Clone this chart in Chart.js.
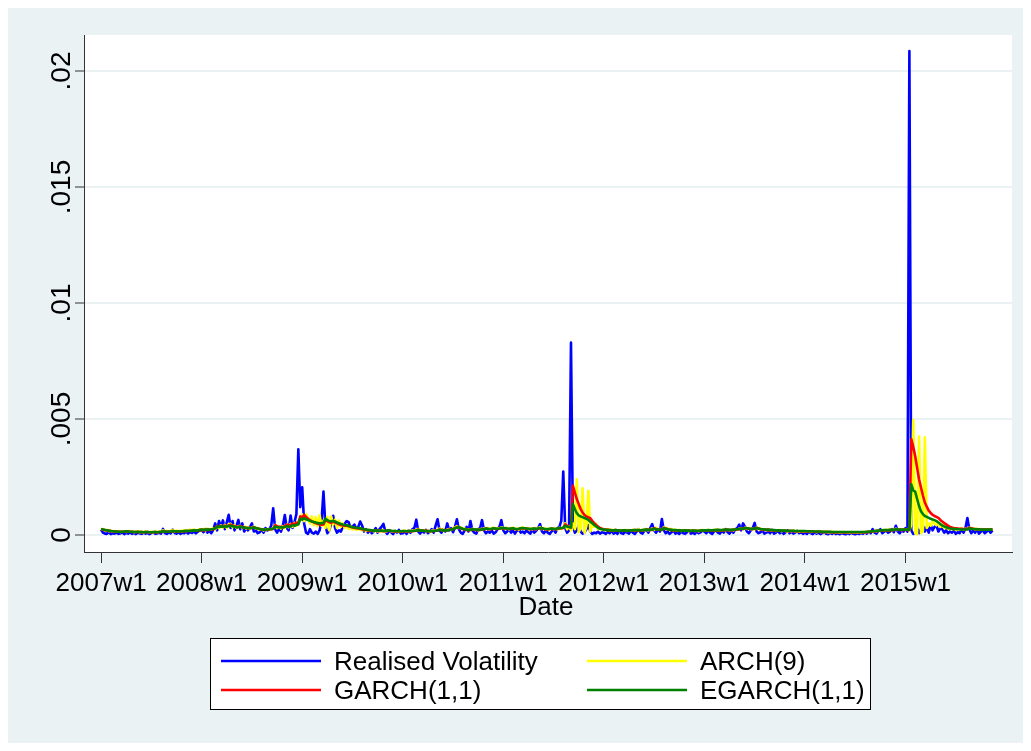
<!DOCTYPE html>
<html>
<head>
<meta charset="utf-8">
<script src="https://cdn.jsdelivr.net/npm/chart.js@4.4.0/dist/chart.umd.min.js"></script>
<style>
  html, body { margin: 0; padding: 0; background: #ffffff; }
  canvas { display: block; }
</style>
</head>
<body>
<canvas id="c" width="1031" height="751"></canvas>
<script>
// Weekly series, 2007w1 .. 2015w46, values in units of 1e-4
const realisedVol = [
  2.3,1.0,0.6,0.5,1.2,0.4,0.8,0.6,1.0,0.5,0.7,1.1,0.4,0.9,0.6,1.2,0.5,0.8,0.4,1.0,0.7,0.5,1.1,0.6,0.9,0.4,0.8,1.2,0.5,0.7,1.0,0.6,2.6,0.8,0.5,1.1,0.7,2.3,0.9,0.6,1.2,0.5,1.0,0.8,1.5,0.6,1.3,0.9,1.6,0.7,1.4,2.0,
  2.0,1.2,2.5,1.0,1.8,0.8,2.2,5.0,2.0,6.0,3.5,6.3,2.5,5.5,8.7,3.0,6.0,2.0,4.0,6.5,2.5,5.0,1.5,3.0,2.0,3.5,5.0,1.5,2.0,0.8,1.2,2.5,1.0,3.0,2.0,2.5,4.0,11.5,2.5,1.0,3.0,1.5,4.0,8.6,3.0,2.0,8.4,3.0,5.5,9.0,36.9,12.0,
  20.6,5.0,1.0,0.5,2.5,1.0,0.6,1.5,0.5,2.0,6.0,18.7,4.0,0.8,2.0,5.0,8.3,3.0,1.0,2.0,1.5,3.5,4.8,6.0,5.5,3.0,3.5,4.5,2.5,3.5,5.8,4.0,1.5,2.5,1.0,2.0,0.8,1.5,3.0,1.0,2.5,3.5,4.8,1.5,0.5,2.0,1.2,0.4,1.8,1.0,2.2,0.6,
  0.8,1.5,0.5,2.0,1.0,2.5,3.0,6.6,1.5,0.6,1.8,1.0,2.2,0.8,1.5,2.5,1.0,4.0,6.8,2.0,1.0,2.5,1.5,5.0,2.0,3.0,1.2,3.5,6.8,2.5,1.0,0.5,2.0,3.5,1.5,6.0,2.0,1.0,0.6,2.5,3.0,6.4,2.0,0.8,1.5,1.0,2.0,0.6,1.2,2.5,3.5,6.4,
  2.0,0.8,1.5,2.5,1.0,2.0,0.6,1.8,2.5,1.0,1.5,0.8,2.0,1.2,0.6,2.5,1.0,1.8,3.0,4.7,1.5,0.8,2.0,1.0,0.5,1.5,2.5,1.0,3.0,3.5,6.2,27.3,3.0,1.0,2.0,82.9,4.0,1.0,2.0,4.0,1.5,0.6,1.2,2.5,4.3,1.5,0.5,1.0,0.8,1.5,0.6,1.2,
  1.0,0.5,1.5,0.8,2.0,0.6,1.2,0.5,1.8,0.8,0.5,1.5,1.0,0.6,2.0,1.0,0.5,1.5,2.5,1.0,0.6,1.8,2.5,1.0,3.0,4.7,2.0,1.0,2.5,1.5,6.9,2.0,0.8,1.5,0.5,1.2,2.0,0.6,1.0,0.5,1.5,0.8,0.5,1.2,2.0,0.6,1.0,0.5,1.5,0.8,1.2,2.0,
  1.5,0.8,2.0,1.0,0.5,1.5,2.2,1.0,0.6,1.8,1.0,2.5,1.2,0.6,2.0,1.0,2.5,3.0,4.5,2.0,5.0,3.5,1.5,0.8,2.0,3.0,5.2,1.5,0.8,1.2,2.0,0.6,1.0,1.5,0.8,2.2,0.6,1.0,1.8,0.8,1.5,0.5,1.2,2.0,0.8,1.5,0.6,1.0,1.8,0.8,1.2,0.5,
  1.0,0.5,1.5,0.8,0.4,1.2,0.6,1.0,0.4,0.8,1.2,0.5,0.3,0.9,0.5,1.1,0.4,0.7,0.3,0.9,0.5,0.3,0.8,0.4,1.0,0.5,0.3,0.7,0.4,0.9,0.5,1.2,0.6,1.5,0.8,2.5,1.0,0.6,1.8,2.5,0.8,1.5,2.0,1.0,1.5,2.5,1.2,4.0,1.5,0.8,2.0,1.5,
  3.0,1.5,208.6,2.0,0.5,1.0,3.0,0.8,2.5,4.0,1.5,3.5,1.0,4.5,2.0,3.5,4.0,1.5,3.0,2.5,1.0,2.0,0.8,1.5,1.0,2.0,0.5,1.2,0.8,2.5,1.0,3.0,7.3,2.5,0.8,2.0,1.0,2.5,0.6,1.5,2.0,0.8,1.5,2.2,1.0,2.0
];
const arch9 = [
  2.4,2.6,2.0,2.2,1.6,1.9,1.5,1.7,1.4,1.6,1.3,1.5,1.6,1.3,1.7,1.4,1.5,1.2,1.4,1.6,1.2,1.4,1.1,1.5,1.3,1.2,1.4,1.1,1.5,1.2,1.4,1.6,2.0,1.5,1.8,1.4,1.7,2.2,1.5,1.9,1.6,1.8,1.5,2.1,1.7,2.0,2.3,1.8,2.4,2.0,2.2,2.5,
  2.1,2.6,2.0,2.8,2.3,2.5,2.9,2.4,3.8,3.0,4.2,3.2,4.4,3.0,4.6,4.8,3.3,4.2,3.0,3.8,4.0,3.0,3.6,2.7,3.4,2.6,3.3,3.6,2.8,3.0,2.3,2.6,2.0,2.5,2.2,2.6,2.4,2.8,4.4,3.0,3.6,2.8,3.8,3.0,4.5,3.4,4.8,3.5,5.2,4.0,5.8,6.5,
  8.8,6.0,9.0,7.5,5.0,8.0,4.2,7.6,3.8,8.5,4.0,6.2,3.0,7.8,2.0,8.0,4.5,6.6,3.0,6.2,3.5,5.0,3.0,4.2,2.6,3.5,2.4,3.0,2.2,2.6,2.4,2.0,2.3,1.8,2.1,1.7,1.9,1.6,1.9,1.5,1.8,1.6,2.0,1.5,1.7,2.1,1.6,1.5,1.8,1.4,1.6,1.5,
  1.7,1.9,1.5,1.8,1.6,2.0,1.8,2.2,2.6,2.0,1.8,2.1,1.6,1.9,1.5,1.8,2.0,1.7,2.2,2.8,2.2,2.4,1.8,2.3,2.6,2.2,2.9,3.2,3.8,3.0,3.3,2.6,2.8,2.1,2.5,2.0,2.7,2.3,2.6,2.0,2.6,2.3,2.9,2.5,3.0,2.4,2.9,3.2,2.6,3.0,2.8,3.3,
  3.0,2.6,3.1,2.4,2.9,3.2,2.5,2.8,2.3,3.0,3.3,2.7,3.0,2.5,2.8,2.4,3.0,2.5,2.9,3.4,2.6,3.0,2.4,2.7,2.2,3.0,2.5,2.8,2.4,3.1,2.6,3.2,5.0,2.4,3.8,2.0,5.0,2.5,24.0,1.2,3.0,20.1,1.0,4.0,19.1,1.5,4.5,3.5,4.8,2.5,3.0,2.2,
  2.4,2.0,2.6,1.9,2.3,1.8,2.2,2.0,1.7,2.1,1.8,2.2,1.7,2.0,1.9,2.3,1.8,2.2,2.4,1.9,2.3,2.1,2.6,2.0,2.4,2.8,2.2,3.2,2.4,2.6,2.1,3.4,2.5,2.9,2.2,2.6,1.9,2.3,1.8,2.2,1.7,2.0,1.8,2.1,1.6,1.9,2.0,1.7,1.9,1.6,2.0,2.2,
  1.8,2.1,1.9,2.2,1.8,2.1,2.3,1.9,2.2,2.0,2.3,2.0,2.4,2.1,2.3,2.0,2.6,2.3,2.7,3.0,2.4,3.2,2.6,3.1,2.5,2.7,2.4,3.3,2.5,2.8,2.2,2.5,2.0,2.3,2.1,1.8,2.1,1.7,2.0,1.8,1.6,1.9,1.7,1.5,1.8,1.6,1.9,1.5,1.7,1.4,1.7,1.5,
  1.6,1.4,1.7,1.3,1.5,1.4,1.2,1.5,1.3,1.4,1.2,1.4,1.1,1.3,1.2,1.4,1.1,1.3,1.0,1.2,1.3,1.1,1.2,1.0,1.3,1.1,1.2,1.0,1.2,1.1,1.3,1.2,1.4,1.2,1.6,1.4,1.8,1.6,2.0,1.8,2.2,1.9,2.3,2.0,2.4,2.1,2.3,2.7,2.2,2.5,2.1,2.4,
  2.2,2.6,2.0,4.5,49.6,0.8,0.4,42.4,0.8,1.8,42.1,3.0,5.0,4.0,6.0,5.0,4.2,5.2,3.5,4.5,3.0,3.6,2.6,3.0,2.4,2.8,2.2,2.6,2.4,2.9,2.3,2.7,2.5,3.2,2.6,2.8,2.4,2.7,2.3,2.6,2.2,2.5,2.3,2.6,2.4,2.5
];
const garch11 = [
  2.5,2.3,2.1,2.0,1.8,1.7,1.6,1.5,1.5,1.4,1.4,1.4,1.4,1.5,1.5,1.4,1.4,1.3,1.3,1.3,1.3,1.3,1.2,1.3,1.3,1.2,1.2,1.2,1.3,1.2,1.3,1.3,1.6,1.5,1.4,1.4,1.5,1.7,1.6,1.5,1.5,1.5,1.5,1.6,1.7,1.7,1.7,1.8,1.9,1.9,1.9,2.1,
  2.2,2.1,2.2,2.3,2.2,2.4,2.5,3.0,3.8,3.6,3.9,3.7,4.0,3.7,4.1,4.4,4.0,3.8,3.4,3.5,3.8,3.4,3.3,3.0,3.0,2.9,3.1,3.3,3.0,2.8,2.6,2.4,2.3,2.2,2.3,2.4,2.5,2.6,4.2,3.8,3.5,3.5,3.3,3.8,4.4,4.0,4.3,4.9,4.6,5.3,5.0,8.0,
  7.6,8.6,7.8,7.0,6.4,5.9,5.5,5.1,4.8,4.5,4.4,4.5,6.5,6.0,5.5,5.3,5.8,5.4,5.0,4.6,4.3,4.1,4.0,4.1,3.8,3.5,3.2,3.0,2.9,2.8,2.7,2.5,2.3,2.2,2.0,1.9,1.8,1.8,1.8,1.7,1.7,1.8,1.6,1.7,1.8,1.9,1.7,1.6,1.6,1.5,1.6,1.5,
  1.6,1.6,1.5,1.5,1.6,1.6,1.7,1.8,2.3,2.0,1.9,1.8,1.7,1.7,1.6,1.6,1.7,1.8,1.9,2.4,2.1,2.0,1.9,2.0,2.3,2.3,2.6,2.9,3.4,3.2,2.9,2.6,2.4,2.2,2.1,2.2,2.4,2.3,2.2,2.1,2.2,2.4,2.5,2.8,2.6,2.5,2.6,2.9,2.7,2.6,2.7,3.0,
  2.8,2.9,2.7,2.6,2.7,2.8,2.6,2.5,2.6,2.8,2.9,2.8,2.7,2.6,2.5,2.6,2.7,2.6,2.7,2.9,2.8,2.6,2.5,2.4,2.6,2.7,2.6,2.5,2.7,2.8,2.9,3.0,4.6,3.9,3.5,3.2,21.2,18.3,15.5,13.3,11.2,9.7,8.6,8.0,7.6,7.2,6.1,5.1,4.3,3.6,3.1,2.7,
  2.5,2.3,2.2,2.1,2.0,2.0,2.1,2.0,1.9,1.8,1.9,2.0,1.9,1.8,2.0,2.0,2.1,2.0,1.9,1.9,2.0,2.2,2.4,2.2,2.3,2.2,2.9,2.6,2.4,2.3,2.2,3.1,2.8,2.5,2.3,2.1,2.0,2.0,1.9,1.9,1.8,1.8,1.9,1.8,1.8,1.7,1.8,1.8,1.7,1.7,1.8,1.9,
  1.9,1.9,2.0,1.9,1.9,2.0,2.0,2.1,2.0,2.0,2.1,2.1,2.2,2.1,2.1,2.2,2.3,2.4,2.5,2.8,2.6,3.0,2.9,2.7,2.6,2.6,2.7,3.1,2.8,2.5,2.4,2.3,2.2,2.2,2.1,2.0,2.0,1.9,1.9,1.9,1.8,1.8,1.8,1.7,1.7,1.7,1.7,1.6,1.6,1.6,1.6,1.6,
  1.6,1.5,1.5,1.5,1.5,1.4,1.4,1.4,1.4,1.3,1.3,1.3,1.3,1.3,1.2,1.2,1.2,1.2,1.2,1.2,1.2,1.2,1.2,1.2,1.2,1.2,1.2,1.2,1.2,1.2,1.2,1.2,1.3,1.3,1.4,1.5,1.6,1.7,1.8,1.9,1.9,2.0,2.0,2.0,2.1,2.1,2.1,2.5,2.3,2.2,2.2,2.2,
  2.3,2.2,2.2,41.3,38.0,34.0,29.0,24.0,20.5,17.0,14.0,12.2,10.5,9.5,8.7,8.2,7.8,7.4,6.5,5.8,5.2,4.6,4.0,3.5,3.2,3.0,2.9,2.8,2.7,2.7,2.6,2.6,2.6,3.1,2.9,2.7,2.6,2.5,2.5,2.4,2.4,2.3,2.3,2.3,2.3,2.3
];
const egarch11 = [
  2.6,2.4,2.2,2.0,1.9,1.7,1.6,1.5,1.5,1.4,1.4,1.4,1.5,1.6,1.5,1.4,1.4,1.3,1.3,1.4,1.3,1.3,1.2,1.3,1.3,1.2,1.2,1.3,1.3,1.2,1.3,1.4,1.6,1.5,1.4,1.5,1.5,1.7,1.6,1.5,1.6,1.5,1.6,1.7,1.8,1.7,1.8,1.9,2.0,1.9,2.0,2.2,
  2.3,2.2,2.3,2.4,2.3,2.5,2.6,2.9,3.6,3.5,3.7,3.6,3.8,3.6,3.9,4.0,3.8,3.6,3.3,3.4,3.6,3.3,3.2,3.0,3.0,2.9,3.1,3.2,3.0,2.8,2.6,2.4,2.3,2.3,2.4,2.5,2.6,2.7,3.6,3.4,3.2,3.3,3.2,3.5,3.8,3.6,3.7,4.2,4.0,4.4,4.5,7.0,
  6.6,7.2,6.8,6.4,6.1,5.8,5.6,5.4,5.2,5.0,5.1,5.2,7.0,6.4,6.0,5.8,6.1,5.8,5.4,5.1,4.8,4.5,4.3,4.2,4.0,3.7,3.4,3.2,3.1,3.0,2.9,2.7,2.5,2.4,2.2,2.1,2.0,1.9,1.9,1.8,1.8,1.9,1.7,1.8,1.9,2.0,1.8,1.7,1.7,1.6,1.7,1.6,
  1.7,1.7,1.6,1.6,1.7,1.7,1.8,1.9,2.1,2.0,1.9,1.8,1.7,1.7,1.6,1.7,1.7,1.8,1.9,2.2,2.1,2.0,1.9,2.0,2.2,2.3,2.5,2.9,3.2,3.3,3.0,2.7,2.5,2.3,2.2,2.3,2.5,2.4,2.3,2.2,2.3,2.5,2.6,2.8,2.7,2.6,2.7,2.9,2.8,2.7,2.8,3.0,
  2.9,3.0,2.8,2.7,2.8,2.9,2.7,2.6,2.7,2.9,3.0,2.9,2.8,2.7,2.6,2.7,2.8,2.7,2.8,3.0,2.9,2.7,2.6,2.5,2.7,2.8,2.7,2.6,2.8,2.9,3.0,3.1,4.0,3.6,3.4,3.3,13.2,11.2,9.4,8.5,8.0,7.7,7.3,7.0,6.5,5.7,5.1,4.3,3.7,3.1,2.7,2.5,
  2.3,2.2,2.1,2.1,2.0,2.0,2.1,2.0,1.9,1.9,2.0,2.0,1.9,1.9,2.0,2.0,2.1,2.1,2.0,2.0,2.1,2.2,2.3,2.2,2.3,2.3,2.7,2.5,2.4,2.4,2.3,2.9,2.7,2.5,2.3,2.2,2.1,2.1,2.0,2.0,1.9,1.9,2.0,1.9,1.9,1.8,1.9,1.9,1.8,1.8,1.9,2.0,
  2.0,2.0,2.1,2.0,2.0,2.1,2.1,2.2,2.1,2.1,2.2,2.2,2.3,2.2,2.2,2.3,2.4,2.5,2.6,2.8,2.7,2.9,2.9,2.8,2.7,2.7,2.8,3.0,2.8,2.6,2.5,2.4,2.3,2.3,2.2,2.1,2.1,2.0,2.0,2.0,1.9,1.9,1.9,1.8,1.8,1.8,1.8,1.7,1.7,1.7,1.7,1.7,
  1.7,1.6,1.6,1.6,1.6,1.5,1.5,1.5,1.5,1.4,1.4,1.4,1.4,1.4,1.3,1.3,1.3,1.3,1.3,1.3,1.3,1.3,1.3,1.3,1.3,1.3,1.3,1.3,1.3,1.3,1.3,1.3,1.4,1.4,1.5,1.6,1.7,1.8,1.9,2.0,2.0,2.1,2.1,2.1,2.2,2.2,2.2,2.5,2.4,2.3,2.3,2.3,
  2.4,2.3,2.3,21.8,19.2,18.7,15.5,12.5,10.2,9.0,8.2,7.8,7.4,7.0,6.7,6.4,6.0,5.4,4.7,4.1,3.7,3.3,3.0,2.8,2.7,2.6,2.6,2.5,2.5,2.4,2.4,2.4,2.4,2.9,2.7,2.6,2.5,2.5,2.4,2.4,2.3,2.3,2.3,2.3,2.3,2.3
];
const VALUE_UNIT = 1e-4;
const seriesNames = ['Realised Volatility', 'ARCH(9)', 'GARCH(1,1)', 'EGARCH(1,1)'];
const xTickWeeks = [0, 52, 104, 156, 208, 260, 312, 364, 416];
const xTickLabels = ['2007w1','2008w1','2009w1','2010w1','2011w1','2012w1','2013w1','2014w1','2015w1'];
const yTickValues = [0, 0.005, 0.01, 0.015, 0.02];
const yTickLabels = ['0', '.005', '.01', '.015', '.02'];
const xAxisTitle = 'Date';

const FONT = '"Liberation Sans", Arial, Helvetica, sans-serif';
const COLORS = ['#0000ff', '#ffff00', '#ff0000', '#008000'];
const toPoints = arr => arr.map((v, i) => ({ x: i, y: v * VALUE_UNIT }));

const PLOT = { left: 84, top: 35, right: 1012, bottom: 552 };

const bgPlugin = {
  id: 'bg',
  beforeDraw(chart) {
    const c = chart.ctx, a = chart.chartArea;
    c.save();
    c.fillStyle = '#ffffff';
    c.fillRect(0, 0, chart.width, chart.height);
    c.fillStyle = '#eaf2f3';
    c.fillRect(8, 8, chart.width - 16, chart.height - 16);
    c.fillStyle = '#ffffff';
    c.fillRect(a.left, a.top, a.right - a.left, a.bottom - a.top);
    c.restore();
  }
};

const textPlugin = {
  id: 'texts',
  afterDraw(chart) {
    const c = chart.ctx, ys = chart.scales.y;
    c.save();
    c.fillStyle = '#000';
    c.font = '28px ' + FONT;
    yTickValues.forEach((v, i) => {
      const py = ys.getPixelForValue(v);
      c.save();
      c.translate(70, py);
      c.rotate(-Math.PI / 2);
      c.textAlign = 'center';
      c.textBaseline = 'alphabetic';
      c.fillText(yTickLabels[i], 0, 0);
      c.restore();
    });
    c.font = '26px ' + FONT;
    c.textAlign = 'center';
    c.textBaseline = 'alphabetic';
    c.fillText(xAxisTitle, 546, 615);

    // legend box
    const L = { x: 210, y: 638, w: 661, h: 72 };
    c.fillStyle = '#ffffff';
    c.fillRect(L.x, L.y, L.w, L.h);
    c.strokeStyle = '#000';
    c.lineWidth = 1;
    c.strokeRect(L.x + 0.5, L.y + 0.5, L.w - 1, L.h - 1);
    const pos = [[221, 661], [587, 661], [221, 690], [587, 690]];
    chart.data.datasets.forEach((ds, i) => {
      const [lx, ly] = pos[i];
      c.strokeStyle = ds.borderColor;
      c.lineWidth = 2.5;
      c.beginPath();
      c.moveTo(lx, ly);
      c.lineTo(lx + 100, ly);
      c.stroke();
      c.fillStyle = '#000';
      c.textAlign = 'left';
      c.textBaseline = 'alphabetic';
      c.fillText(ds.label, lx + 113, ly + 9);
    });
    c.restore();
  }
};

new Chart(document.getElementById('c'), {
  type: 'line',
  data: {
    datasets: [
      { label: seriesNames[0], data: toPoints(realisedVol), borderColor: COLORS[0], order: 4 },
      { label: seriesNames[1], data: toPoints(arch9), borderColor: COLORS[1], order: 3 },
      { label: seriesNames[2], data: toPoints(garch11), borderColor: COLORS[2], order: 2 },
      { label: seriesNames[3], data: toPoints(egarch11), borderColor: COLORS[3], order: 1 }
    ]
  },
  options: {
    responsive: false,
    animation: false,
    devicePixelRatio: 1,
    elements: {
      point: { radius: 0, hoverRadius: 0 },
      line: { borderWidth: 2.6, tension: 0, fill: false, borderJoinStyle: 'round' }
    },
    layout: { padding: { left: 0, right: 1031 - PLOT.right, top: PLOT.top, bottom: 0 } },
    plugins: { legend: { display: false }, tooltip: { enabled: false } },
    scales: {
      x: {
        type: 'linear',
        min: -8.84,
        max: 471.07,
        afterFit: s => { s.height = 751 - PLOT.bottom; },
        afterBuildTicks: s => { s.ticks = xTickWeeks.map(v => ({ value: v })); },
        ticks: {
          autoSkip: false, maxRotation: 0, minRotation: 0,
          callback: v => { const k = xTickWeeks.indexOf(v); return k >= 0 ? xTickLabels[k] : ''; },
          font: { family: FONT, size: 26 }, color: '#000', padding: 5
        },
        grid: { drawOnChartArea: false, drawTicks: true, tickLength: 11, tickColor: '#333', tickWidth: 1 },
        border: { display: true, color: '#333', width: 1 }
      },
      y: {
        min: -0.000733,
        max: 0.021552,
        afterFit: s => { s.width = PLOT.left; },
        afterBuildTicks: s => { s.ticks = yTickValues.map(v => ({ value: v })); },
        ticks: { display: false },
        grid: { color: '#eaf2f3', lineWidth: 2, drawTicks: true, tickLength: 9, tickColor: '#333', tickWidth: 1 },
        border: { display: true, color: '#333', width: 1 }
      }
    }
  },
  plugins: [bgPlugin, textPlugin]
});
</script>
</body>
</html>
